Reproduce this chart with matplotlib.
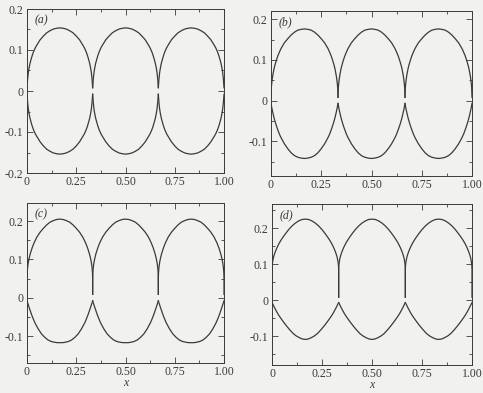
import numpy as np
import matplotlib
matplotlib.use("Agg")
import matplotlib.pyplot as plt
from matplotlib.ticker import MultipleLocator, FixedLocator, FixedFormatter

plt.rcParams['font.family'] = ['Liberation Serif', 'DejaVu Serif']

# lobe starts (period = 1/3)
lobe_starts = [0.0, 1 / 3, 2 / 3]

# half-lobe profiles, u = fraction of one lobe width (0 .. 0.5)
# (a)
a_up_u = [0, 0.01, 0.02, 0.03, 0.045, 0.06, 0.08, 0.1, 0.125, 0.15, 0.2, 0.25, 0.3, 0.35, 0.4, 0.45, 0.5]
a_up_y = [0.008, 0.03, 0.045, 0.055, 0.067, 0.076, 0.087, 0.096, 0.105, 0.112, 0.125, 0.134, 0.142, 0.147, 0.151, 0.153, 0.154]
a_lo_u = a_up_u
a_lo_y = [-0.008, -0.029, -0.044, -0.054, -0.066, -0.075, -0.086, -0.095, -0.104, -0.111, -0.124, -0.134, -0.142, -0.147, -0.151, -0.153, -0.154]

# (b)
b_up_u = [0, 0.005, 0.01, 0.02, 0.03, 0.045, 0.06, 0.08, 0.1, 0.125, 0.15, 0.2, 0.25, 0.3, 0.35, 0.4, 0.45, 0.5]
b_up_y = [0.008, 0.032, 0.041, 0.055, 0.065, 0.078, 0.088, 0.099, 0.109, 0.119, 0.128, 0.142, 0.152, 0.161, 0.168, 0.173, 0.175, 0.176]
b_lo_u = [0, 0.01, 0.02, 0.035, 0.05, 0.075, 0.1, 0.125, 0.15, 0.2, 0.25, 0.3, 0.35, 0.4, 0.45, 0.5]
b_lo_y = [-0.007, -0.016, -0.024, -0.035, -0.045, -0.059, -0.071, -0.082, -0.091, -0.106, -0.118, -0.128, -0.135, -0.139, -0.141, -0.142]

# (c)
c_up_u = [0, 0, 0.003, 0.01, 0.02, 0.03, 0.05, 0.08, 0.11, 0.15, 0.2, 0.25, 0.3, 0.35, 0.4, 0.45, 0.5]
c_up_y = [0.009, 0.05, 0.066, 0.08, 0.092, 0.101, 0.115, 0.131, 0.144, 0.158, 0.171, 0.181, 0.19, 0.197, 0.201, 0.204, 0.205]
c_lo_u = [0, 0.015, 0.03, 0.05, 0.07, 0.095, 0.12, 0.17, 0.22, 0.27, 0.32, 0.37, 0.42, 0.46, 0.5]
c_lo_y = [-0.008, -0.016, -0.024, -0.034, -0.044, -0.055, -0.065, -0.081, -0.094, -0.103, -0.11, -0.114, -0.116, -0.117, -0.117]

# (d)
d_up_u = [0, 0, 0.003, 0.01, 0.02, 0.03, 0.05, 0.08, 0.11, 0.15, 0.2, 0.25, 0.3, 0.35, 0.4, 0.45, 0.5]
d_up_y = [0.008, 0.085, 0.097, 0.107, 0.117, 0.124, 0.135, 0.148, 0.159, 0.171, 0.184, 0.196, 0.206, 0.214, 0.22, 0.224, 0.225]
d_lo_u = [0, 0.015, 0.03, 0.05, 0.07, 0.095, 0.12, 0.17, 0.22, 0.27, 0.32, 0.37, 0.42, 0.46, 0.5]
d_lo_y = [-0.007, -0.012, -0.018, -0.025, -0.032, -0.04, -0.047, -0.06, -0.072, -0.083, -0.093, -0.1, -0.105, -0.108, -0.109]

panels = [
    ("(a)", a_up_u, a_up_y, a_lo_u, a_lo_y, (-0.2, 0.2), [27, 224, 9, 173], False),
    ("(b)", b_up_u, b_up_y, b_lo_u, b_lo_y, (-0.185, 0.22), [271, 472, 11, 176], False),
    ("(c)", c_up_u, c_up_y, c_lo_u, c_lo_y, (-0.17, 0.247), [27, 224, 203, 363], True),
    ("(d)", d_up_u, d_up_y, d_lo_u, d_lo_y, (-0.18, 0.267), [272, 472, 204, 365], True),
]

x_ticks = [0, 0.25, 0.5, 0.75, 1.0]
x_labels = ["0", "0.25", "0.50", "0.75", "1.00"]
y_ticks = [-0.2, -0.1, 0, 0.1, 0.2]
y_labels = ["-0.2", "-0.1", "0", "0.1", "0.2"]

W, H = 483, 393
bg = "#f1f1ef"
ink = "#3a3a3a"


def full_lobe(u, y):
    # mirror the half profile about the lobe centre (u = 0.5)
    u = np.asarray(u)
    y = np.asarray(y)
    uu = np.concatenate([u, 1 - u[::-1][1:]])
    yy = np.concatenate([y, y[::-1][1:]])
    return uu, yy


fig = plt.figure(figsize=(W / 100, H / 100), dpi=100)
fig.patch.set_facecolor(bg)

for label, uu, uy, lu, ly, ylim, box, show_x in panels:
    l, r, t, b = box
    ax = fig.add_axes([l / W, 1 - b / H, (r - l) / W, (b - t) / H])
    ax.set_facecolor(bg)
    period = 1 / 3
    for x0 in lobe_starts:
        u1, y1 = full_lobe(uu, uy)
        ax.plot(x0 + u1 * period, y1, color=ink, lw=0.9)
        u2, y2 = full_lobe(lu, ly)
        ax.plot(x0 + u2 * period, y2, color=ink, lw=0.9)
    ax.set_xlim(0, 1)
    ax.set_ylim(*ylim)
    ax.xaxis.set_major_locator(FixedLocator(x_ticks))
    ax.xaxis.set_major_formatter(FixedFormatter(x_labels))
    ax.xaxis.set_minor_locator(MultipleLocator(0.125))
    ax.yaxis.set_major_locator(FixedLocator(y_ticks))
    ax.yaxis.set_major_formatter(FixedFormatter(y_labels))
    ax.yaxis.set_minor_locator(MultipleLocator(0.05))
    ax.tick_params(which="both", direction="in", top=True, right=True,
                   labelsize=8.5, colors=ink, width=0.6, pad=2.5)
    ax.tick_params(which="major", length=4)
    ax.tick_params(which="minor", length=2)
    for s in ax.spines.values():
        s.set_linewidth(0.7)
        s.set_color(ink)
    ax.text(0.04, 0.97, label, transform=ax.transAxes, ha="left", va="top",
            fontsize=8.5, style="italic", color=ink)
    if show_x:
        ax.set_xlabel("x", fontsize=8.5, style="italic", color=ink, labelpad=-1)

fig.savefig("out.png", dpi=100, facecolor=bg)
